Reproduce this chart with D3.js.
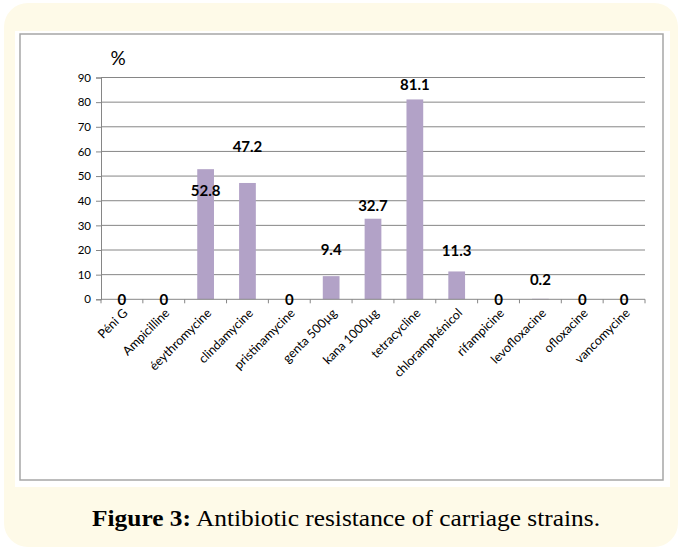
<!DOCTYPE html>
<html><head><meta charset="utf-8">
<script src="https://cdn.jsdelivr.net/npm/d3@7"></script>
<style>
html,body{margin:0;padding:0;background:#fff;}
svg{display:block;}
</style></head>
<body>
<svg id="chart" width="680" height="550"></svg>
<script>
const categories = ["Péni G","Ampicilline","éeythromycine","clindamycine","pristinamycine","genta 500µg","kana 1000µg","tetracycline","chloramphénicol","rifampicine","levofloxacine","ofloxacine","vancomycine"];
const values = [0,0,52.8,47.2,0,9.4,32.7,81.1,11.3,0,0.2,0,0];
const valueLabels = ["0","0","52.8","47.2","0","9.4","32.7","81.1","11.3","0","0.2","0","0"];
const yTicks = [0,10,20,30,40,50,60,70,80,90];
const caption = "Antibiotic resistance of carriage strains.";

// label vertical offsets (px, relative to bar top), as placed in the original
const labelOffsets = [0,0,21,-36,0,-27,-13,-15,-21,0,-19,0,0];

const svg = d3.select("#chart");
svg.append("rect").attr("x",4).attr("y",3).attr("width",674).attr("height",544)
  .attr("rx",24).attr("fill","#fefae8");
svg.append("rect").attr("x",15).attr("y",31).attr("width",655).attr("height",456).attr("fill","#fff");
svg.append("rect").attr("x",20).attr("y",34).attr("width",643).attr("height",446)
  .attr("fill","none").attr("stroke","#a6a6a6").attr("stroke-width",1.5);

const x = d3.scaleBand().domain(categories).range([101,645]).paddingInner(0.6).paddingOuter(0.3);
const y = d3.scaleLinear().domain([0,90]).range([299.3,77.5]);
const band = d3.scaleBand().domain(categories).range([101,645]);

const font = "Lato, 'Open Sans', sans-serif";

// gridlines
svg.append("g").selectAll("line").data(yTicks.filter(d=>d>0)).join("line")
  .attr("x1",101).attr("x2",645).attr("y1",d=>y(d)).attr("y2",d=>y(d))
  .attr("stroke","#868686").attr("stroke-width",1);

// y axis
const yAxis = svg.append("g").attr("transform","translate(101,0)")
  .call(d3.axisLeft(y).tickValues(yTicks).tickSize(5).tickPadding(5));
yAxis.select(".domain").attr("stroke","#868686");
yAxis.selectAll(".tick line").attr("stroke","#868686");
yAxis.selectAll("text").attr("font-family",font).attr("font-size",11.5).attr("fill","#000");

// bars
svg.append("g").selectAll("rect").data(values).join("rect")
  .attr("x",(d,i)=>x(categories[i])).attr("width",x.bandwidth())
  .attr("y",d=>y(d)).attr("height",d=>y(0)-y(d)).attr("fill","#b2a2c7");

// x axis
const xAxis = svg.append("g").attr("transform",`translate(0,${y(0)})`);
xAxis.append("line").attr("x1",101).attr("x2",645).attr("stroke","#868686");
xAxis.selectAll("line.tk").data(d3.range(categories.length+1)).join("line").attr("class","tk")
  .attr("x1",i=>101+i*band.step()).attr("x2",i=>101+i*band.step()).attr("y1",0).attr("y2",4)
  .attr("stroke","#868686");
xAxis.selectAll("text").data(categories).join("text")
  .attr("transform",d=>`translate(${band(d)+band.bandwidth()/2+1},9) rotate(-45)`)
  .attr("text-anchor","end").attr("dy","0.62em")
  .attr("font-family",font).attr("font-size",12.5).attr("fill","#000").text(d=>d);

// value labels
svg.append("g").selectAll("text").data(values).join("text")
  .attr("x",(d,i)=>band(categories[i])+band.bandwidth()/2)
  .attr("y",(d,i)=>y(d)+labelOffsets[i])
  .attr("dy","0.36em").attr("text-anchor","middle")
  .attr("font-family",font).attr("font-weight","bold").attr("font-size",15).attr("fill","#000")
  .text((d,i)=>valueLabels[i]);

// % label
svg.append("text").attr("x",118).attr("y",65).attr("text-anchor","middle")
  .attr("font-family",font).attr("font-size",19).attr("fill","#000").text("%");

// caption
const cap = svg.append("text").attr("x",346).attr("y",526).attr("text-anchor","middle")
  .attr("font-family","'Liberation Serif', serif").attr("font-size",23).attr("fill","#000")
  .attr("textLength",508).attr("lengthAdjust","spacingAndGlyphs");
cap.append("tspan").attr("font-weight","bold").text("Figure 3:");
cap.append("tspan").text(" " + caption);
</script>
</body></html>
